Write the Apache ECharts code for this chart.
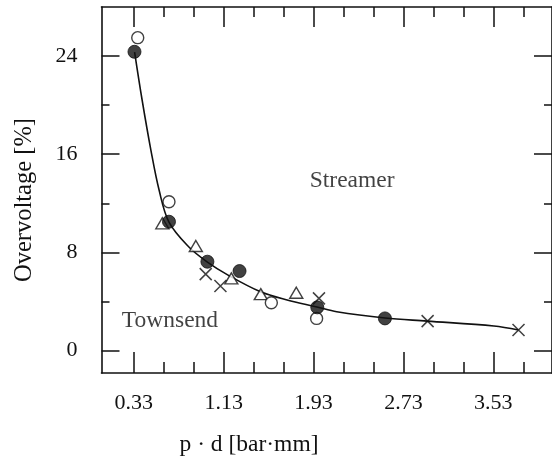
<!DOCTYPE html>
<html>
<head>
<meta charset="utf-8">
<script src="https://cdn.jsdelivr.net/npm/echarts@6/dist/echarts.min.js"></script>
<style>
html,body{margin:0;padding:0;background:#fff;}
#chart{width:552px;height:467px;}
</style>
</head>
<body>
<div id="chart"></div>
<script>
// ---- data ----
var xMajorTicks = [0.33, 1.13, 1.93, 2.73, 3.53];
var xMinorTicks = [0.5967, 0.8633, 1.3967, 1.6633, 2.1967, 2.4633, 2.9967, 3.2633, 3.7967];
var yMajorTicks = [0, 8, 16, 24];
var yMinorTicks = [4, 12, 20];

var filledX = [0.336, 0.643, 0.985, 1.271, 1.963, 2.565];
var filledY = [24.35, 10.5, 7.24, 6.48, 3.52, 2.62];
var openX = [0.365, 0.643, 1.554, 1.957];
var openY = [25.5, 12.13, 3.9, 2.62];
var triX = [0.584, 0.882, 1.198, 1.46, 1.776];
var triY = [10.37, 8.52, 5.88, 4.6, 4.71];
var crossX = [0.97, 1.101, 1.978, 2.945, 3.754];
var crossY = [6.23, 5.26, 4.25, 2.40, 1.67];
var curveX = [0.337, 0.404, 0.482, 0.555, 0.643, 0.818, 0.985, 1.169, 1.458, 1.695, 1.96, 2.136, 2.566, 2.939, 3.535, 3.754];
var curveY = [24.33, 20.42, 16.34, 13.08, 10.47, 8.46, 7.21, 6.15, 4.79, 4.12, 3.55, 3.16, 2.65, 2.40, 2.0, 1.67];
var regionLabels = ['Streamer', 'Townsend'];
var regionX = [2.273, 0.652];
var regionY = [13.81, 2.40];
var xTitle = 'p · d [bar·mm]';
var yTitle = 'Overvoltage [%]';

// ---- layout ----
var XMIN = 0.0425, XMAX = 4.052, YMIN = -1.83, YMAX = 28.0;
var FONT = 'Liberation Serif';
var INK = '#111';

function zip(a, b) { return a.map(function (v, i) { return [v, b[i]]; }); }

function xAx(pos, ticks, len, showLine, labels) {
  return {
    type: 'value', position: pos, min: XMIN, max: XMAX,
    splitLine: { show: false },
    axisLine: { show: showLine, onZero: false, lineStyle: { color: INK, width: 1.6 } },
    axisTick: { show: true, inside: true, length: len, customValues: ticks, lineStyle: { color: INK, width: 1.5 } },
    axisLabel: labels ? {
      show: true, customValues: ticks, margin: 19, color: INK, fontFamily: FONT, fontSize: 22,
      formatter: function (v) { return v.toFixed(2); }
    } : { show: false }
  };
}
function yAx(pos, ticks, len, showLine, labels) {
  return {
    type: 'value', position: pos, min: YMIN, max: YMAX,
    splitLine: { show: false },
    axisLine: { show: showLine, onZero: false, lineStyle: { color: INK, width: 1.6 } },
    axisTick: { show: true, inside: true, length: len, customValues: ticks, lineStyle: { color: INK, width: 1.5 } },
    axisLabel: labels ? {
      show: true, customValues: ticks, margin: 24, color: INK, fontFamily: FONT, fontSize: 22,
      formatter: function (v) { return String(Math.round(v)); }
    } : { show: false }
  };
}

var chart = echarts.init(document.getElementById('chart'), null, { renderer: 'canvas' });
chart.setOption({
  animation: false,
  backgroundColor: '#fff',
  grid: { left: 101.5, top: 7, width: 457.5, height: 366, containLabel: false },
  xAxis: [
    xAx('bottom', xMajorTicks, 21, true, true),
    xAx('bottom', xMinorTicks, 11, false, false),
    xAx('top', xMajorTicks, 20, true, false),
    xAx('top', xMinorTicks, 10, false, false)
  ],
  yAxis: [
    yAx('left', yMajorTicks, 18, true, true),
    yAx('left', yMinorTicks, 8, false, false),
    yAx('right', yMajorTicks, 18, true, false),
    yAx('right', yMinorTicks, 8, false, false)
  ],
  graphic: [
    { type: 'text', x: 249, y: 445, style: { text: xTitle, font: '23.5px "Liberation Serif"', fill: INK, align: 'center', verticalAlign: 'middle' } },
    { type: 'text', x: 25, y: 200, rotation: Math.PI / 2, style: { text: yTitle, font: '24.5px "Liberation Serif"', fill: INK, align: 'center', verticalAlign: 'middle' } }
  ],
  series: [
    {
      type: 'line', data: zip(curveX, curveY), smooth: 0.35, showSymbol: false, symbol: 'none',
      lineStyle: { color: INK, width: 1.6 }, z: 2
    },
    {
      type: 'scatter', data: zip(triX, triY), symbol: 'triangle', symbolSize: [13, 11],
      itemStyle: { color: '#fff', borderColor: INK, borderWidth: 1.4 }, z: 3
    },
    {
      type: 'scatter', data: zip(openX, openY), symbol: 'circle', symbolSize: 12,
      itemStyle: { color: '#fff', borderColor: INK, borderWidth: 1.4 }, z: 3
    },
    {
      type: 'scatter', data: zip(filledX, filledY), symbol: 'circle', symbolSize: 13,
      itemStyle: { color: INK, borderColor: INK, borderWidth: 1 }, z: 4
    },
    {
      type: 'scatter', data: zip(crossX, crossY), symbol: 'path://M0,0L10,10M10,0L0,10', symbolSize: 12,
      itemStyle: { color: 'none', borderColor: INK, borderWidth: 1.5 }, z: 5
    },
    {
      type: 'scatter', symbolSize: 0, silent: true, z: 6,
      data: regionLabels.map(function (t, i) { return { value: [regionX[i], regionY[i]], name: t }; }),
      label: { show: true, position: 'inside', formatter: '{b}', color: INK, fontFamily: FONT, fontSize: 23.5 }
    }
  ]
});
</script>
</body>
</html>
